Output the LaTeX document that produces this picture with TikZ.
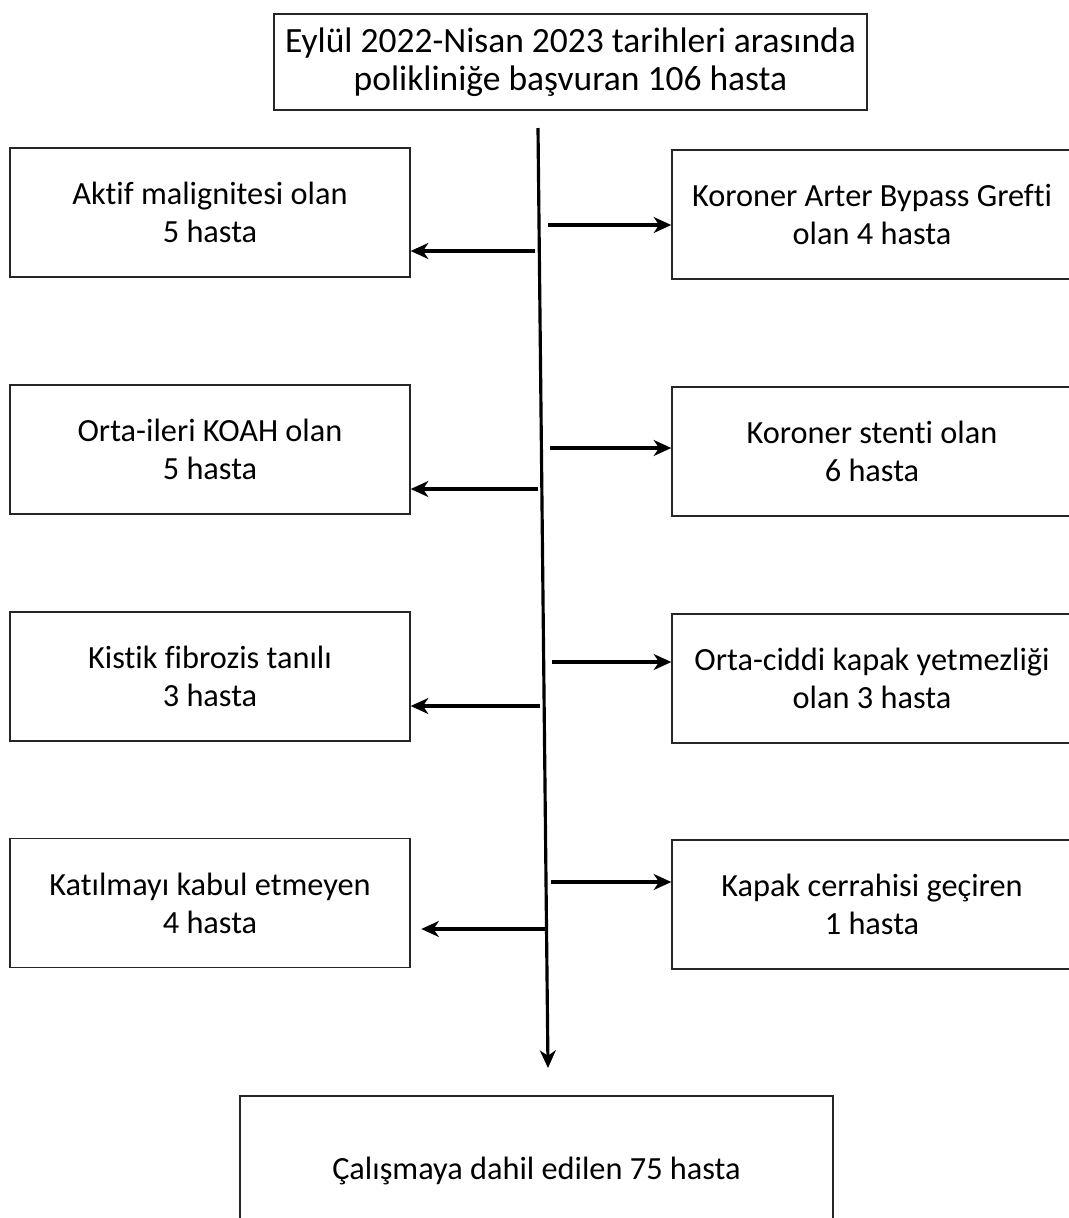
\documentclass[tikz,border=0pt]{standalone}
\usepackage{fontspec}
\setmainfont{Carlito}[Ligatures=NoCommon]
\usetikzlibrary{arrows.meta}

\begin{document}
\begin{tikzpicture}[x=0.02cm, y=-0.02cm,
        every node/.style={draw=black!85, line width=0.8pt, align=center, font=\fontsize{18.4}{21.5}\selectfont},
        sidebox/.style={minimum width=8cm, minimum height=2.58cm},
        widebox/.style={minimum width=11.86cm},
        flow/.style={line width=1.8pt, -{Stealth[length=10pt, width=9pt, inset=3pt]}}]
        \useasboundingbox (0,0) rectangle (1069,1218);
        \node[widebox, minimum height=1.92cm, font=\fontsize{20.2}{21.5}\selectfont] (basvuru) at (570.5,62) {Eylül 2022-Nisan 2023 tarihleri arasında\\polikliniğe başvuran 106 hasta};
        \node[sidebox] (malign) at (210,212.5) {Aktif malignitesi olan\\5 hasta};
        \node[sidebox] (koah) at (210,449.5) {Orta-ileri KOAH olan\\5 hasta};
        \node[sidebox] (kistik) at (210,676.5) {Kistik fibrozis tanılı\\3 hasta};
        \node[sidebox] (ret) at (210,903) {Katılmayı kabul etmeyen\\4 hasta};
        \node[sidebox] (cabg) at (872,214.5) {Koroner Arter Bypass Grefti\\olan 4 hasta};
        \node[sidebox] (stent) at (872,451.5) {Koroner stenti olan\\6 hasta};
        \node[sidebox] (kapak) at (872,678.5) {Orta-ciddi kapak yetmezliği\\olan 3 hasta};
        \node[sidebox] (cerrahi) at (872,904.5) {Kapak cerrahisi geçiren\\1 hasta};
        \node[widebox, minimum height=3cm] (dahil) at (536.5,1171) {Çalışmaya dahil edilen 75 hasta};
        % ana hat
        \coordinate (hatbas) at (538,128);
        \coordinate (hatson) at (548,1068);
        \draw[flow] (hatbas) -- (hatson);
        % dislananlar
        \coordinate (sol1) at (535,251);
        \coordinate (sol2) at (538,489);
        \coordinate (sol3) at (540,706);
        \coordinate (sol4) at (546,929);
        \coordinate (sag1) at (548,225);
        \coordinate (sag2) at (550,448);
        \coordinate (sag3) at (552,662);
        \coordinate (sag4) at (551,882);
        \draw[flow] (sol1) -- (sol1 -| malign.east);
        \draw[flow] (sol2) -- (sol2 -| koah.east);
        \draw[flow] (sol3) -- (sol3 -| kistik.east);
        \draw[flow, shorten >=6pt] (sol4) -- (sol4 -| ret.east);
        \draw[flow] (sag1) -- (sag1 -| cabg.west);
        \draw[flow] (sag2) -- (sag2 -| stent.west);
        \draw[flow] (sag3) -- (sag3 -| kapak.west);
        \draw[flow] (sag4) -- (sag4 -| cerrahi.west);
    \end{tikzpicture}
\end{document}
